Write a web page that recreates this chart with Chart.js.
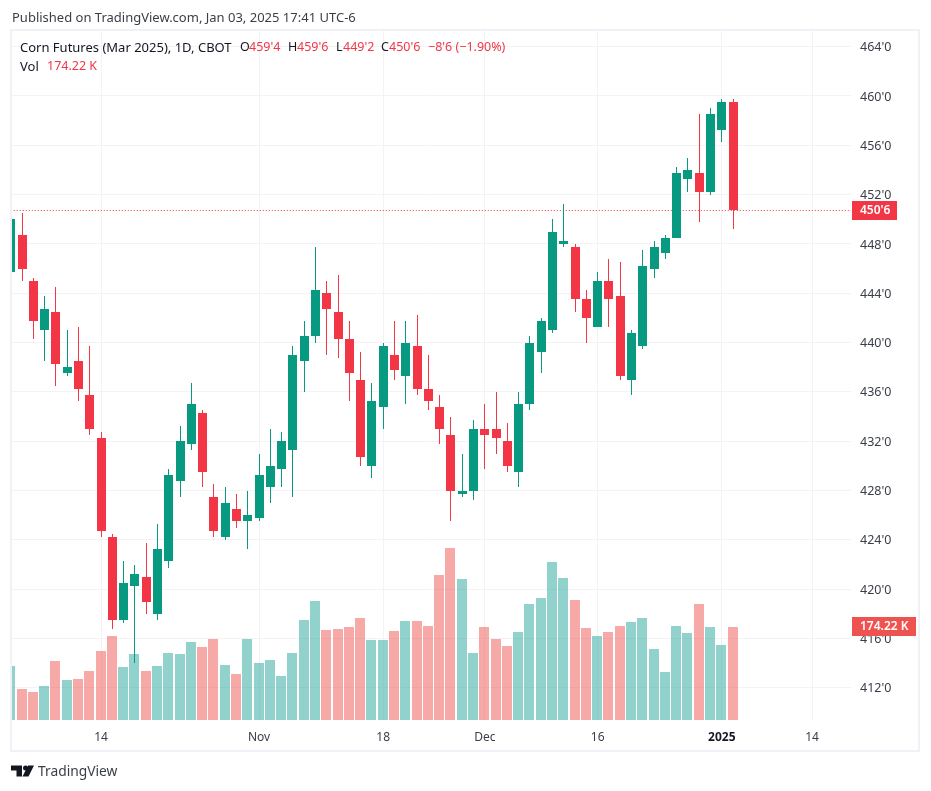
<!DOCTYPE html>
<html>
<head>
<meta charset="utf-8">
<title>Corn Futures (Mar 2025)</title>
<script src="https://cdn.jsdelivr.net/npm/chart.js"></script>
<style>
  * { margin: 0; padding: 0; box-sizing: border-box; }
  html, body { width: 931px; height: 791px; background: #fff; overflow: hidden; }
  body { position: relative; font-family: "Noto Sans", sans-serif; }
  canvas { position: absolute; left: 0; top: 0; }
  .frame { position: absolute; left: 10px; top: 29px; width: 910px; height: 723px; border: 2px solid #f0f0f6; pointer-events: none; }
  .t { position: absolute; white-space: nowrap; line-height: 16px; font-size: 13px; color: #131722; }
  .v { font-size: 12.5px; }
  .up { color: #f23645; }
  .logo { position: absolute; left: 11px; top: 765px; }
</style>
</head>
<body>
<canvas id="chart" width="931" height="791"></canvas>
<div class="frame"></div>
<div class="t" style="left:12px;top:9px;color:#3a3e48">Published on TradingView.com, Jan 03, 2025 17:41 UTC-6</div>
<div class="t" style="left:20px;top:39px">Corn Futures (Mar 2025), 1D, CBOT</div>
<div class="t v" style="left:240px;top:39px">O</div>
<div class="t v up" style="left:249px;top:39px">459'4</div>
<div class="t v" style="left:288px;top:39px">H</div>
<div class="t v up" style="left:297px;top:39px">459'6</div>
<div class="t v" style="left:336px;top:39px">L</div>
<div class="t v up" style="left:343px;top:39px">449'2</div>
<div class="t v" style="left:381px;top:39px">C</div>
<div class="t v up" style="left:389px;top:39px">450'6</div>
<div class="t v up" style="left:428px;top:39px">−8'6 (−1.90%)</div>
<div class="t" style="left:20px;top:58px">Vol</div>
<div class="t v up" style="left:47px;top:58px">174.22 K</div>
<svg class="logo" width="24" height="13" viewBox="0 0 24 13">
  <path fill="#131722" d="M0 .5h11v11H5.5V5.5H0z"/>
  <circle fill="#131722" cx="14.5" cy="3" r="2.5"/>
  <path fill="#131722" d="M17 .5h6L17.5 11.5h-6z"/>
</svg>
<div class="t" style="left:38px;top:763px;font-size:13.8px;color:#3a3e48">TradingView</div>

<script>
// trading days, Oct 2 2024 .. Jan 3 2025, then blank days on the right of the chart
const dates = ['10-02','10-03','10-04','10-07','10-08','10-09','10-10','10-11','10-14','10-15','10-16','10-17','10-18',
  '10-21','10-22','10-23','10-24','10-25','10-28','10-29','10-30','10-31','11-01','11-04','11-05','11-06','11-07','11-08',
  '11-11','11-12','11-13','11-14','11-15','11-18','11-19','11-20','11-21','11-22','11-25','11-26','11-27','11-29',
  '12-02','12-03','12-04','12-05','12-06','12-09','12-10','12-11','12-12','12-13','12-16','12-17','12-18','12-19','12-20',
  '12-23','12-24','12-26','12-27','12-30','12-31','01-02','01-03','01-06','01-07','01-08','01-09','01-10','01-13','01-14'];

const opens = [445.75,448.75,445,441,442.5,437.5,438.5,435.75,432.25,424.25,417.5,420.25,421,418,422.25,428.75,431.75,434.25,427.5,424.25,
  426.5,425.5,425.75,428.25,429.75,431.25,438.5,440.5,444,442.5,440.25,437,430,434.75,439,437.25,439.75,436.25,434.75,432.5,
  427.75,428,433,433,432,429.5,435,439.25,441,448,447.75,443.5,441.25,445,443.75,437,439.75,446,447.25,448.5,453.25,453.75,452.25,457.25,459.5];
const highs = [450.25,450.5,445.25,443.75,444.5,441,441.25,439.75,432.75,424.5,422.25,422,423.75,425.25,429.75,433.25,436.75,434.5,428.5,428.25,
  427.75,428,431,433,432.75,439.75,441.75,447.75,445,445.5,441.75,439.25,436.75,440,441.75,441.75,442.25,439,435.75,434,
  431,433.75,435,436,433.5,436,440.5,442,450,451.25,448,444.25,445.75,446.75,446.5,441,447.5,448.25,448.75,454.25,455,458.5,459,459.75,459.75];
const lows = [445.5,445,440.25,438.5,436.5,437.25,435.25,432.5,424.25,416.75,417.25,414,418,417.5,421.75,427.5,431.25,428.25,424.25,424,
  425,423.25,425.5,427,428.25,427.5,436,440,439,438.75,435.25,430,429,433,437,435,435.75,434.5,431.75,425.5,
  427.5,427.25,429.75,431,429.5,428.25,434.5,437.5,440.75,447.75,442.5,440,441.25,441.25,437,435.75,439.5,445.25,446.75,448.5,452.25,449.75,452,456.25,449.25];
const closes = [450,446,441.75,442.75,438.25,438,436.25,433,424.75,417.5,420.5,421.25,419,423.25,429.25,432,435,429.5,424.75,427,
  425.5,426,429.25,430,432,439,440.5,444.25,442.75,440.25,437.5,430.75,435.25,439.75,437.75,440,436.25,435.25,433,428,
  428,433,432.5,432.25,430,435,440,441.75,449,448.25,443.5,442,445,443.5,437.25,440.75,446.25,447.75,448.5,453.75,454,452.25,458.5,459.5,450.75];
// thousands of contracts
const volumes = [101,58,52,64,111,75,77,92,129,157,99,124,92,101,125,124,146,137,152,103,86,
  152,107,112,82,125,187,223,169,170,174,191,150,150,167,185,185,176,272,322,264,125,174,
  152,139,165,217,229,296,266,225,172,157,165,176,184,191,133,90,176,163,217,174,140,174.22];

const priceTicks = [412,416,420,424,428,432,436,440,444,448,452,456,460,464];
const timeTickDates = ['10-14','11-01','11-18','12-02','12-16','01-02','01-14'];
const timeTickLabels = ['14','Nov','18','Dec','16','2025','14'];
const lastPrice = 450.75;
const lastPriceLabel = "450'6";
const lastVolume = 174.22;
const lastVolumeLabel = '174.22 K';

const GREEN = '#089981', RED = '#f23645';
const isDown = i => closes[i] < opens[i];
const idx = opens.map((_, i) => i);

const crispBars = {
  id: 'crispBars',
  afterDatasetsUpdate(chart) {
    chart.getSortedVisibleDatasetMetas().forEach(meta => {
      meta.data.forEach(el => {
        if (meta.type === 'line') { el.y = Math.floor(el.y) + 0.5; return; }
        el.x = meta.yAxisID === 'vol' ? Math.floor(el.x) : Math.floor(el.x) + 0.5;
        el.y = Math.round(el.y);
        el.base = Math.round(el.base);
      });
    });
  },
  // the price labels sit a pixel lower than the grid line in the original
  beforeDraw(chart) {
    chart.scales.y.getLabelItems(chart.chartArea).forEach(item => { item.textOffset += 1; });
  }
};

function badge(ctx, left, right, y, bg, text) {
  ctx.fillStyle = bg;
  ctx.fillRect(left, y - 9.5, right - left, 19);
  ctx.fillStyle = '#fff';
  ctx.font = '600 12px "Noto Sans"';
  ctx.textAlign = 'left';
  ctx.textBaseline = 'middle';
  ctx.fillText(text, left + 8, y + 0.5);
}

const lastBadges = {
  id: 'lastBadges',
  afterDraw(chart) {
    const ctx = chart.ctx;
    ctx.save();
    badge(ctx, 852, 897, Math.floor(chart.scales.y.getPixelForValue(lastPrice)) + 0.5, RED, lastPriceLabel);
    badge(ctx, 852, 916, Math.floor(chart.scales.vol.getPixelForValue(lastVolume)) + 0.5, '#ef5350', lastVolumeLabel);
    ctx.restore();
  }
};

new Chart(document.getElementById('chart'), {
  data: {
    datasets: [
      {
        type: 'line', order: 5, borderColor: RED, borderWidth: 1, borderDash: [1, 2], pointRadius: 0, yAxisID: 'y',
        data: [{ x: 0, y: lastPrice }, { x: 74.45, y: lastPrice }]
      },
      {
        type: 'bar', order: 4, yAxisID: 'vol', grouped: false, barThickness: 10, inflateAmount: 0,
        backgroundColor: idx.map(i => isDown(i) ? 'rgba(239,83,80,0.5)' : 'rgba(38,166,154,0.5)'),
        data: idx.map(i => ({ x: i, y: volumes[i] }))
      },
      {
        type: 'bar', order: 3, yAxisID: 'y', grouped: false, barThickness: 1, inflateAmount: 0,
        backgroundColor: idx.map(i => isDown(i) ? RED : GREEN),
        data: idx.map(i => ({ x: i, y: [lows[i], highs[i]] }))
      },
      {
        type: 'bar', order: 2, yAxisID: 'y', grouped: false, barThickness: 9, inflateAmount: 0,
        backgroundColor: idx.map(i => isDown(i) ? RED : GREEN),
        data: idx.map(i => ({ x: i, y: [opens[i], closes[i]] }))
      }
    ]
  },
  options: {
    responsive: false,
    animation: false,
    devicePixelRatio: 1,
    layout: { padding: { left: 12, top: 31, right: 0, bottom: 0 } },
    plugins: { legend: { display: false }, tooltip: { enabled: false } },
    scales: {
      x: {
        type: 'linear',
        offset: false,
        min: 0.11,
        max: 74.45,
        afterFit(scale) { scale.height = 71; },
        afterBuildTicks(scale) { scale.ticks = timeTickDates.map(d => ({ value: dates.indexOf(d) })); },
        grid: { color: '#f3f3f6', drawTicks: false, offset: false },
        border: { display: false },
        ticks: {
          autoSkip: false,
          maxRotation: 0,
          padding: 10,
          callback: (v) => timeTickLabels[timeTickDates.indexOf(dates[v])],
          color: c => c.index === 5 ? '#131722' : '#3a3e48',
          font: c => c.index === 5 ? { family: '"Noto Sans"', size: 12, weight: 'bold' } : { family: '"Noto Sans"', size: 12 }
        }
      },
      y: {
        position: 'right',
        min: 409.39,
        max: 465.27,
        afterFit(scale) { scale.width = 80; },
        afterBuildTicks(scale) { scale.ticks = priceTicks.map(v => ({ value: v })); },
        grid: { color: '#f3f3f6', drawTicks: false },
        border: { display: false },
        ticks: {
          padding: 9,
          callback: v => v + "'0",
          color: '#3a3e48',
          font: { family: '"Noto Sans"', size: 12.5 }
        }
      },
      vol: { display: false, min: 0, max: 1290 }
    }
  },
  plugins: [crispBars, lastBadges]
});
</script>
</body>
</html>
